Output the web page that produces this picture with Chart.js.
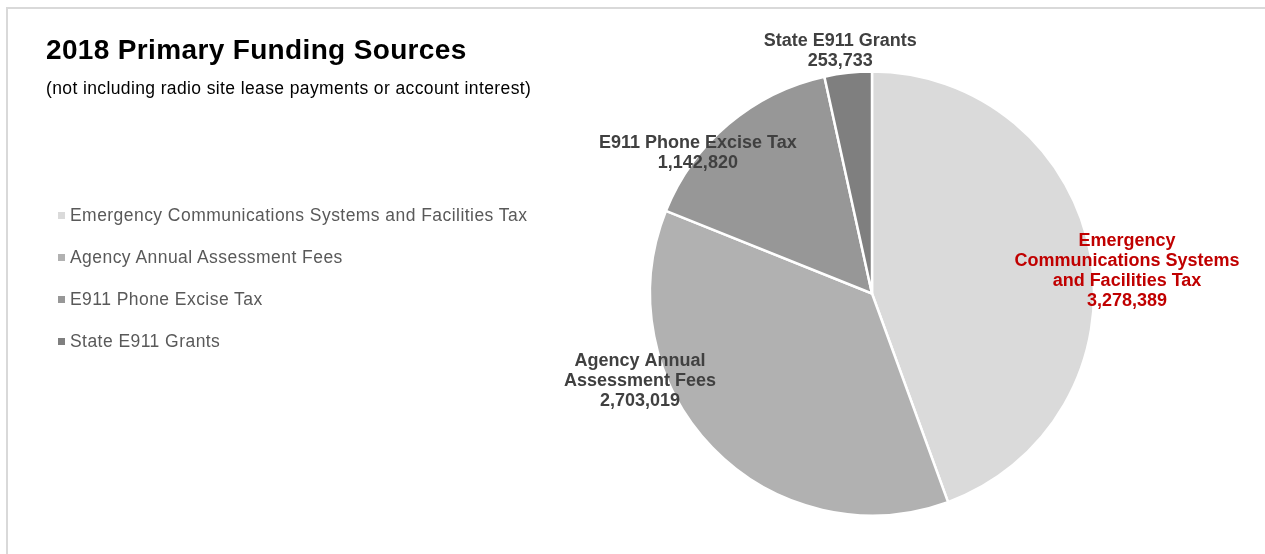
<!DOCTYPE html>
<html>
<head>
<meta charset="utf-8">
<script src="https://cdn.jsdelivr.net/npm/chart.js@4.4.0/dist/chart.umd.min.js"></script>
<style>
body { margin: 0; background: #fff; font-family: "Liberation Sans", Arial, sans-serif; }
#wrap { position: relative; width: 1265px; height: 554px; overflow: hidden; }
#frame { position: absolute; left: 6px; top: 7px; width: 1300px; height: 600px;
  border-top: 2px solid #d9d9d9; border-left: 2px solid #d9d9d9; }
#title { position: absolute; left: 46px; top: 34px; font-size: 28px; letter-spacing: 0.35px; font-weight: bold; color: #000; white-space: nowrap; }
#subtitle { position: absolute; left: 46px; top: 78px; font-size: 17.5px; letter-spacing: 0.38px; color: #000; white-space: nowrap; }
#legend { position: absolute; left: 58px; top: 204px; }
.item { height: 42px; font-size: 17.5px; letter-spacing: 0.45px; color: #595959; white-space: nowrap; position: relative; }
.item span.box { position: absolute; left: 0; top: 8px; width: 7px; height: 7px; }
.item span.txt { position: absolute; left: 12px; top: 0; line-height: 22px; }
#mycanvas { position: absolute; left: 0; top: 0; }
</style>
</head>
<body>
<div id="wrap">
  <div id="frame"></div>
  <canvas id="mycanvas" width="1265" height="554"></canvas>
  <div id="title">2018 Primary Funding Sources</div>
  <div id="subtitle">(not including radio site lease payments or account interest)</div>
  <div id="legend"></div>
</div>
<script>
var sources = [
	"Emergency Communications Systems and Facilities Tax",
	"Agency Annual Assessment Fees",
	"E911 Phone Excise Tax",
	"State E911 Grants"
];
var amounts = [3278389, 2703019, 1142820, 253733];
var sliceLabelLines = [
	["Emergency", "Communications Systems", "and Facilities Tax"],
	["Agency Annual", "Assessment Fees"],
	["E911 Phone Excise Tax"],
	["State E911 Grants"]
];
var sliceColors = ["#dadada", "#b1b1b1", "#979797", "#7f7f7f"];
var labelColors = ["#c00000", "#404040", "#404040", "#404040"];

// where each data label sits: shift from the slice middle (degrees) and distance (x radius)
var labelShift = [5, 23.4, -10.9, -1.3];
var labelDist = [1.153, 1.117, 1.007, 1.10];

// legend
var legend = document.getElementById("legend");
for (var i in sources) {
	var row = document.createElement("div");
	row.className = "item";
	row.innerHTML = '<span class="box" style="background:' + sliceColors[i] + '"></span><span class="txt">' + sources[i] + '</span>';
	legend.appendChild(row);
}

var pieLabels = {
	id: "pieLabels",
	afterDatasetsDraw: function(chart) {
		var ctx = chart.ctx;
		var arcs = chart.getDatasetMeta(0).data;
		ctx.save();
		ctx.font = "bold 18px 'Liberation Sans', Arial, sans-serif";
		ctx.textAlign = "center";
		ctx.textBaseline = "middle";
		arcs.forEach(function(arc, i) {
			var p = arc.getProps(["x", "y", "startAngle", "endAngle", "outerRadius"], true);
			var a = (p.startAngle + p.endAngle) / 2 + labelShift[i] * Math.PI / 180;
			var r = p.outerRadius * labelDist[i];
			var cx = p.x + Math.cos(a) * r;
			var cy = p.y + Math.sin(a) * r;
			var lines = sliceLabelLines[i].concat([amounts[i].toLocaleString("en-US")]);
			var lh = 20;
			var y0 = cy - (lines.length - 1) * lh / 2;
			ctx.fillStyle = labelColors[i];
			lines.forEach(function(t, k) {
				ctx.fillText(t, cx, y0 + k * lh);
			});
		});
		ctx.restore();
	}
};

var ctx = document.getElementById("mycanvas");
var PieGraph = new Chart(ctx, {
	type: "pie",
	data: {
		labels: sources,
		datasets: [{
			data: amounts,
			backgroundColor: sliceColors,
			borderColor: "#ffffff",
			borderWidth: 2.5
		}]
	},
	options: {
		responsive: false,
		animation: false,
		radius: 222,
		layout: { padding: { left: 650, right: 171, top: 71, bottom: 38 } },
		plugins: {
			legend: { display: false },
			tooltip: { enabled: false }
		}
	},
	plugins: [pieLabels]
});
</script>
</body>
</html>
